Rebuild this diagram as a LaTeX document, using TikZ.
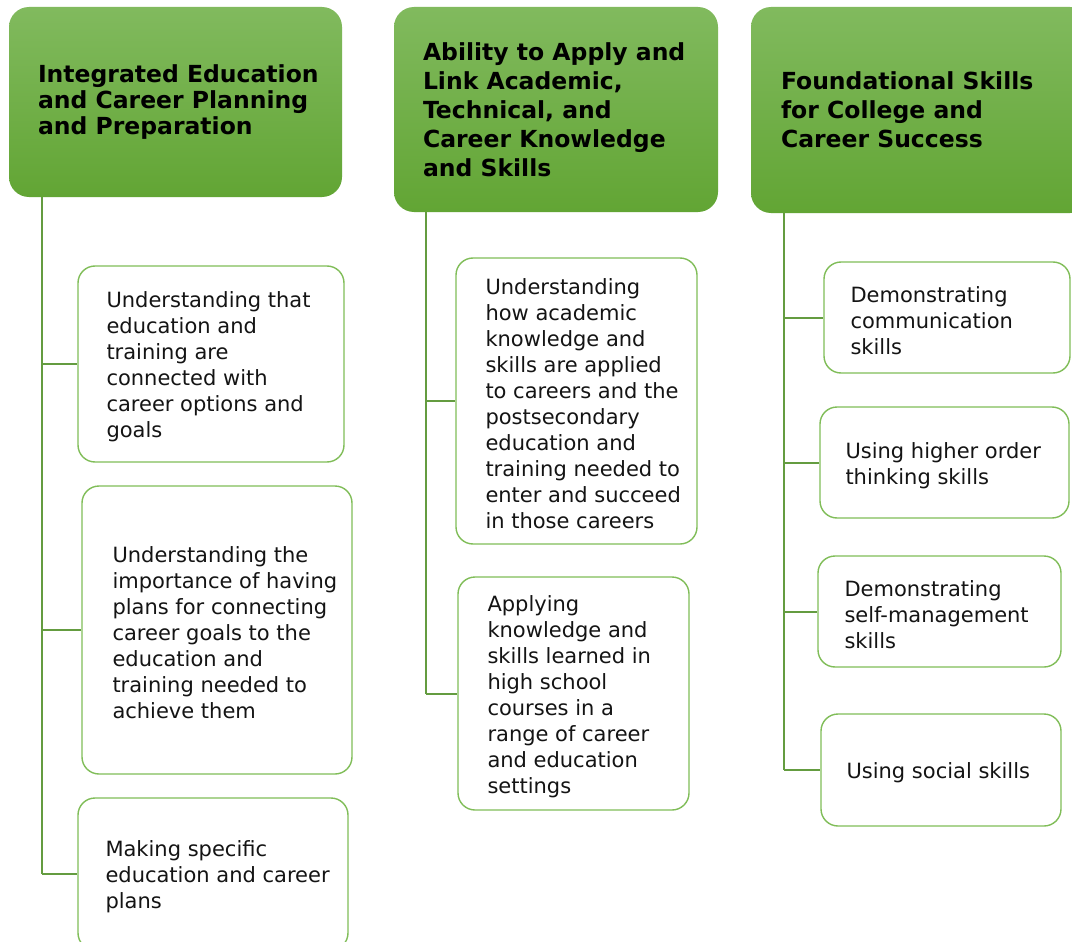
\documentclass[tikz,border=0pt]{standalone}
\usepackage{fontspec}
\setmainfont{DejaVu Sans}
\definecolor{hdtop}{RGB}{129,186,94}
\definecolor{hdbot}{RGB}{98,165,52}
\definecolor{boxline}{RGB}{128,189,88}
\definecolor{connline}{RGB}{100,156,64}
\definecolor{txt}{RGB}{20,20,20}
\tikzset{
  hdr/.style 2 args={rectangle, rounded corners=20pt, top color=hdtop, bottom color=hdbot, draw=none,
    minimum width=#1, minimum height=#2, inner sep=0pt},
  hdrtxt/.style={anchor=west, inner sep=0pt, align=left, font=\bfseries\fontsize{23.5}{#1}\selectfont, text=black},
  cbox/.style 2 args={rectangle, rounded corners=17pt, draw=boxline, line width=1.4pt, fill=white,
    minimum width=#1, minimum height=#2, inner sep=0pt},
  ctxt/.style={anchor=west, inner sep=0pt, yshift=-3pt, align=left, font=\fontsize{21}{26}\selectfont, text=txt},
  conn/.style={draw=connline, line width=2pt}
}
\begin{document}
\begin{tikzpicture}[x=1pt,y=-1pt]
\useasboundingbox (0,0) rectangle (1072,942);
\clip (0,0) rectangle (1072,942);
\fill[white] (0,0) rectangle (1072,942);
% headers
\node[hdr={333pt}{190pt}] (h1) at (175.5,102) {};
\node[hdrtxt=26pt] (h1t) at ([xshift=29pt]h1.west) {Integrated Education\\and Career Planning\\and Preparation};
\node[hdr={324pt}{205pt}] (h2) at (556,109.5) {};
\node[hdrtxt=29pt] (h2t) at ([xshift=29pt]h2.west) {Ability to Apply and\\Link Academic,\\Technical, and\\Career Knowledge\\and Skills};
\node[hdr={339pt}{206pt}] (h3) at (920.5,110) {};
\node[hdrtxt=29pt] (h3t) at ([xshift=30pt]h3.west) {Foundational Skills\\for College and\\Career Success};
\coordinate (t1) at ([xshift=33pt]h1.south west);
\coordinate (t2) at ([xshift=32pt]h2.south west);
\coordinate (t3) at ([xshift=33pt]h3.south west);
% column 1
\node[cbox={266pt}{196pt}] (b1) at (211,364) {};
\node[ctxt] (b1t) at ([xshift=29pt]b1.west) {Understanding that\\education and\\training are\\connected with\\career options and\\goals};
\node[cbox={270pt}{288pt}] (b2) at (217,630) {};
\node[ctxt] (b2t) at ([xshift=31pt]b2.west) {Understanding the\\importance of having\\plans for connecting\\career goals to the\\education and\\training needed to\\achieve them};
\node[cbox={270pt}{152pt}] (b3) at (213,874) {};
\node[ctxt] (b3t) at ([xshift=28pt]b3.west) {Making specific\\education and career\\plans};
% column 2
\node[cbox={241pt}{286pt}] (b4) at (576.5,401) {};
\node[ctxt] (b4t) at ([xshift=30pt]b4.west) {Understanding\\how academic\\knowledge and\\skills are applied\\to careers and the\\postsecondary\\education and\\training needed to\\enter and succeed\\in those careers};
\node[cbox={231pt}{233pt}] (b5) at (573.5,693.5) {};
\node[ctxt] (b5t) at ([xshift=30pt]b5.west) {Applying\\knowledge and\\skills learned in\\high school\\courses in a\\range of career\\and education\\settings};
% column 3
\node[cbox={246pt}{111pt}] (b6) at (947,317.5) {};
\node[ctxt] (b6t) at ([xshift=27pt]b6.west) {Demonstrating\\communication\\skills};
\node[cbox={249pt}{111pt}] (b7) at (944.5,462.5) {};
\node[ctxt] (b7t) at ([xshift=26pt]b7.west) {Using higher order\\thinking skills};
\node[cbox={243pt}{111pt}] (b8) at (939.5,611.5) {};
\node[ctxt] (b8t) at ([xshift=27pt]b8.west) {Demonstrating\\self-management\\skills};
\node[cbox={240pt}{112pt}] (b9) at (941,770) {};
\node[ctxt] (b9t) at ([xshift=26pt]b9.west) {Using social skills};
% connectors
\draw[conn] (t1) -- (t1 |- b3.west);
\draw[conn] (t1 |- b1.west) -- (b1.west);
\draw[conn] (t1 |- b2.west) -- (b2.west);
\draw[conn] (t1 |- b3.west) -- (b3.west);
\draw[conn] (t2) -- (t2 |- b5.west);
\draw[conn] (t2 |- b4.west) -- (b4.west);
\draw[conn] (t2 |- b5.west) -- (b5.west);
\draw[conn] (t3) -- (t3 |- b9.west);
\draw[conn] (t3 |- b6.west) -- (b6.west);
\draw[conn] (t3 |- b7.west) -- (b7.west);
\draw[conn] (t3 |- b8.west) -- (b8.west);
\draw[conn] (t3 |- b9.west) -- (b9.west);
\end{tikzpicture}
\end{document}
